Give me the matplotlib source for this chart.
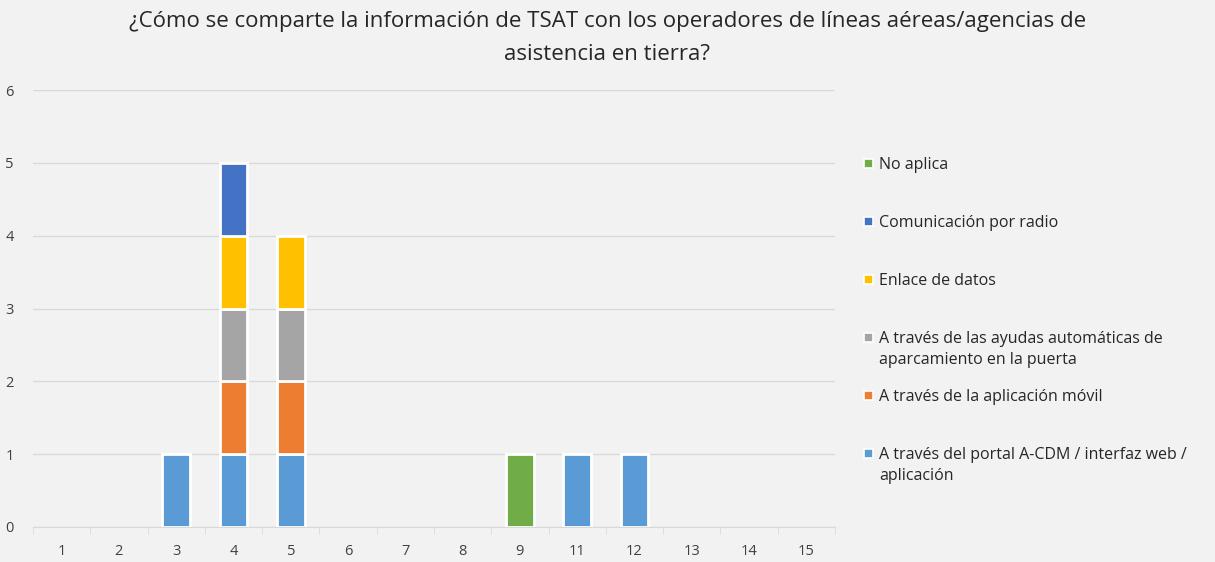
import numpy as np
import matplotlib
matplotlib.use("Agg")
import matplotlib.pyplot as plt
from matplotlib.patches import Rectangle

plt.rcParams["font.family"] = ["Open Sans", "DejaVu Sans"]

CATEGORIES = ["1", "2", "3", "4", "5", "6", "7", "8", "9", "11", "12", "13", "14", "15"]

SERIES = [
    "A través del portal A-CDM / interfaz web /\naplicación",
    "A través de la aplicación móvil",
    "A través de las ayudas automáticas de\naparcamiento en la puerta",
    "Enlace de datos",
    "Comunicación por radio",
    "No aplica",
]
COLORS = ["#5B9BD5", "#ED7D31", "#A5A5A5", "#FFC000", "#4472C4", "#70AD47"]

portal  = [0, 0, 1, 1, 1, 0, 0, 0, 0, 1, 1, 0, 0, 0]
movil   = [0, 0, 0, 1, 1, 0, 0, 0, 0, 0, 0, 0, 0, 0]
ayudas  = [0, 0, 0, 1, 1, 0, 0, 0, 0, 0, 0, 0, 0, 0]
enlace  = [0, 0, 0, 1, 1, 0, 0, 0, 0, 0, 0, 0, 0, 0]
radio   = [0, 0, 0, 1, 0, 0, 0, 0, 0, 0, 0, 0, 0, 0]
noaplica = [0, 0, 0, 0, 0, 0, 0, 0, 1, 0, 0, 0, 0, 0]

VALUES = [portal, movil, ayudas, enlace, radio, noaplica]

BG = "#F2F2F2"
W, H = 1215, 562

fig = plt.figure(figsize=(W / 100, H / 100), dpi=100, facecolor=BG)
ax = fig.add_axes([33 / W, 1 - 527 / H, (835 - 33) / W, (527 - 90) / H], facecolor=BG)

x = np.arange(len(CATEGORIES))
bottom = np.zeros(len(CATEGORIES))
for name, vals, col in zip(SERIES, VALUES, COLORS):
    v = np.array(vals, dtype=float)
    m = v > 0
    ax.bar(x[m], v[m], bottom=bottom[m], width=0.48, color=col,
           edgecolor="white", linewidth=2, zorder=3)
    bottom += v

ax.set_xlim(-0.5, len(CATEGORIES) - 0.5)
ax.set_ylim(0, 6)
ax.set_yticks(range(7))
ax.set_xticks(x)
ax.set_xticklabels(CATEGORIES, fontsize=10.5, color="#404040")
ax.set_xticks(np.arange(-0.5, len(CATEGORIES)), minor=True)
ax.tick_params(axis="x", which="major", length=0, pad=12)
ax.tick_params(axis="x", which="minor", length=5, color="#D9D9D9")
ax.tick_params(axis="y", length=0, labelsize=10.5, labelcolor="#404040", pad=14)
ax.grid(axis="y", color="#D9D9D9", linewidth=1, zorder=0)
for s in ["top", "right", "left"]:
    ax.spines[s].set_visible(False)
ax.spines["bottom"].set_color("#D9D9D9")

fig.text(0.5, 1 - 11 / H,
         "¿Cómo se comparte la información de TSAT con los operadores de líneas aéreas/agencias de\nasistencia en tierra?",
         ha="center", va="top", fontsize=16, color="#262626", linespacing=1.75)

# legend, reversed order like Excel
for i, (label, col) in enumerate(zip(SERIES[::-1], COLORS[::-1])):
    yc = 163 + 58 * i
    fig.add_artist(Rectangle((864 / W, 1 - (yc + 4.5) / H), 9 / W, 9 / H,
                             transform=fig.transFigure, facecolor=col,
                             edgecolor="white", linewidth=1.2))
    fig.text(879 / W, 1 - (yc - 6) / H, label, ha="left", va="top",
             fontsize=11.5, color="#262626", linespacing=1.4)

plt.savefig("out.png", dpi=100, facecolor=BG)
